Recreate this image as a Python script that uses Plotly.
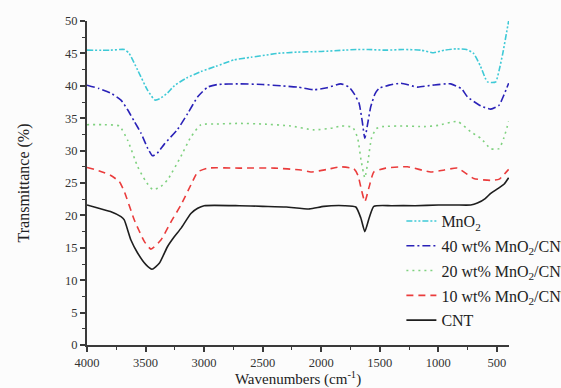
import plotly.graph_objects as go

# ---- data ----
mno2_wn = [4000, 3800, 3680, 3640, 3567, 3482, 3420, 3380, 3312, 3255, 3150, 3027, 2900, 2744, 2600, 2450, 2373, 2200, 2000, 1800, 1700, 1600, 1450, 1300, 1150, 1040, 950, 850, 760, 700, 640, 600, 580, 550, 510, 480, 450, 420, 400]
mno2_val = [45.5, 45.5, 45.6, 45.0, 42.4, 39.3, 37.8, 38.0, 38.9, 40.0, 41.2, 42.2, 43.0, 44.0, 44.4, 44.8, 45.0, 45.2, 45.3, 45.5, 45.6, 45.6, 45.5, 45.6, 45.5, 45.1, 45.5, 45.7, 45.6, 45.0, 43.0, 41.2, 40.6, 40.5, 40.6, 42.5, 45.0, 48.0, 50.0]

c40_wn = [4000, 3900, 3800, 3710, 3653, 3596, 3539, 3480, 3440, 3400, 3340, 3226, 3141, 3055, 2970, 2885, 2700, 2500, 2345, 2200, 2063, 1950, 1833, 1762, 1720, 1677, 1650, 1628, 1605, 1577, 1540, 1506, 1420, 1321, 1178, 1050, 894, 800, 752, 638, 553, 482, 440, 400]
c40_val = [40.1, 39.6, 38.9, 37.8, 36.3, 34.5, 32.7, 30.3, 29.2, 29.6, 31.0, 33.3, 35.7, 38.3, 39.8, 40.2, 40.3, 40.2, 40.0, 39.8, 39.4, 39.7, 40.3, 39.8, 38.8, 37.3, 34.5, 31.9, 34.0, 36.8, 38.8, 39.6, 40.1, 40.4, 39.8, 40.1, 40.3, 39.5, 38.3, 36.9, 36.4, 37.0, 38.6, 40.4]

c20_wn = [4000, 3850, 3724, 3653, 3567, 3500, 3440, 3380, 3312, 3198, 3113, 3027, 2900, 2700, 2500, 2260, 2063, 1900, 1833, 1733, 1690, 1660, 1628, 1600, 1570, 1530, 1479, 1300, 1122, 1000, 837, 724, 638, 553, 482, 440, 400]
c20_val = [34.0, 34.0, 33.8, 31.6, 27.5, 25.3, 24.0, 24.3, 25.5, 29.1, 32.1, 34.0, 34.1, 34.2, 34.1, 33.8, 33.2, 33.5, 33.8, 33.6, 32.0, 28.5, 25.8, 28.5, 32.0, 33.4, 33.7, 33.8, 33.7, 33.9, 34.5, 32.9, 31.9, 30.3, 30.3, 32.0, 34.5]

c10_wn = [4000, 3900, 3800, 3724, 3682, 3596, 3511, 3454, 3369, 3283, 3198, 3113, 3055, 2970, 2700, 2400, 2174, 2089, 1950, 1833, 1722, 1687, 1656, 1628, 1591, 1551, 1450, 1264, 1065, 950, 837, 698, 553, 480, 440, 400]
c10_val = [27.4, 26.9, 26.2, 25.2, 23.7, 19.3, 16.0, 14.8, 16.2, 19.0, 21.6, 24.7, 26.7, 27.3, 27.3, 27.3, 27.0, 26.7, 27.1, 27.5, 27.2, 26.2, 23.9, 22.1, 24.4, 26.7, 27.3, 27.5, 26.7, 27.0, 27.3, 25.7, 25.4, 25.6, 26.3, 27.1]

cnt_wn = [4000, 3900, 3800, 3710, 3682, 3625, 3568, 3497, 3445, 3383, 3312, 3255, 3198, 3113, 3055, 3000, 2700, 2500, 2300, 2100, 1978, 1800, 1705, 1662, 1628, 1591, 1551, 1400, 1200, 1000, 850, 724, 667, 600, 553, 480, 440, 400]
cnt_val = [21.6, 21.1, 20.6, 19.8, 19.3, 16.2, 14.2, 12.4, 11.7, 12.6, 15.2, 16.7, 18.0, 20.3, 21.1, 21.5, 21.5, 21.4, 21.3, 21.0, 21.4, 21.5, 21.3, 19.6, 17.5, 19.6, 21.4, 21.5, 21.5, 21.6, 21.6, 21.6, 21.9, 22.6, 23.4, 24.3, 24.8, 25.8]

series_names = ["MnO<sub>2</sub>", "40 wt% MnO<sub>2</sub>/CNT", "20 wt% MnO<sub>2</sub>/CNT", "10 wt% MnO<sub>2</sub>/CNT", "CNT"]
x_ticks = [4000, 3500, 3000, 2500, 2000, 1500, 1000, 500]
y_ticks = [0, 5, 10, 15, 20, 25, 30, 35, 40, 45, 50]

series = [
    (mno2_wn, mno2_val, "#3ec9d6", "6px,2px,2px,2px,2px,2px"),
    (c40_wn, c40_val, "#2a22b8", "8px,3px,2px,3px"),
    (c20_wn, c20_val, "#7fd17f", "2px,4px"),
    (c10_wn, c10_val, "#ea3c3c", "7px,5px"),
    (cnt_wn, cnt_val, "#1e1e1e", "solid"),
]

fig = go.Figure()
for i, ((xs, ys, col, dash), name) in enumerate(zip(series, series_names)):
    fig.add_trace(go.Scatter(
        x=xs, y=ys, name=name, mode="lines", legendgroup=f"g{i}",
        line=dict(color=col, width=1.6, dash=dash, shape="spline", smoothing=0.5),
    ))

font_family = "Liberation Serif, Times New Roman, serif"
axis_common = dict(
    showline=True, linecolor="#3a3a3a", linewidth=1.8, mirror=False,
    showgrid=False, zeroline=False,
    ticks="outside", ticklen=5, tickwidth=1.5, tickcolor="#3a3a3a",
    tickfont=dict(family=font_family, size=12.5, color="#333"),
    minor=dict(ticks="outside", ticklen=3, tickwidth=1.2, tickcolor="#3a3a3a"),
)

fig.update_layout(
    width=561, height=388,
    margin=dict(l=87, r=52, t=21, b=43, autoexpand=False),
    paper_bgcolor="#fcfcfc", plot_bgcolor="#fcfcfc",
    font=dict(family=font_family, color="#222"),
    showlegend=True,
    legend=dict(
        x=0.745, y=0.435, xanchor="left", yanchor="top",
        bgcolor="rgba(0,0,0,0)", borderwidth=0,
        font=dict(family=font_family, size=16, color="#222"),
        tracegroupgap=1,
    ),
    xaxis=dict(
        range=[4000, 397],
        tickvals=x_ticks, ticktext=[str(v) for v in x_ticks],
        title=dict(text="Wavenumbers (cm<sup>-1</sup>)", font=dict(family=font_family, size=15, color="#222"), standoff=5),
        **axis_common,
    ),
    yaxis=dict(
        range=[0, 50],
        tickvals=y_ticks,
        title=dict(text="Transmittance (%)", font=dict(family=font_family, size=16, color="#222"), standoff=31),
        **axis_common,
    ),
)
fig.update_xaxes(minor=dict(dtick=250, tick0=0))
fig.update_yaxes(minor=dict(dtick=2.5, tick0=0))

fig.write_html(
    "out.html",
    config={"displayModeBar": False},
    post_script="document.body.style.margin='0px';document.body.style.overflow='hidden';",
)
